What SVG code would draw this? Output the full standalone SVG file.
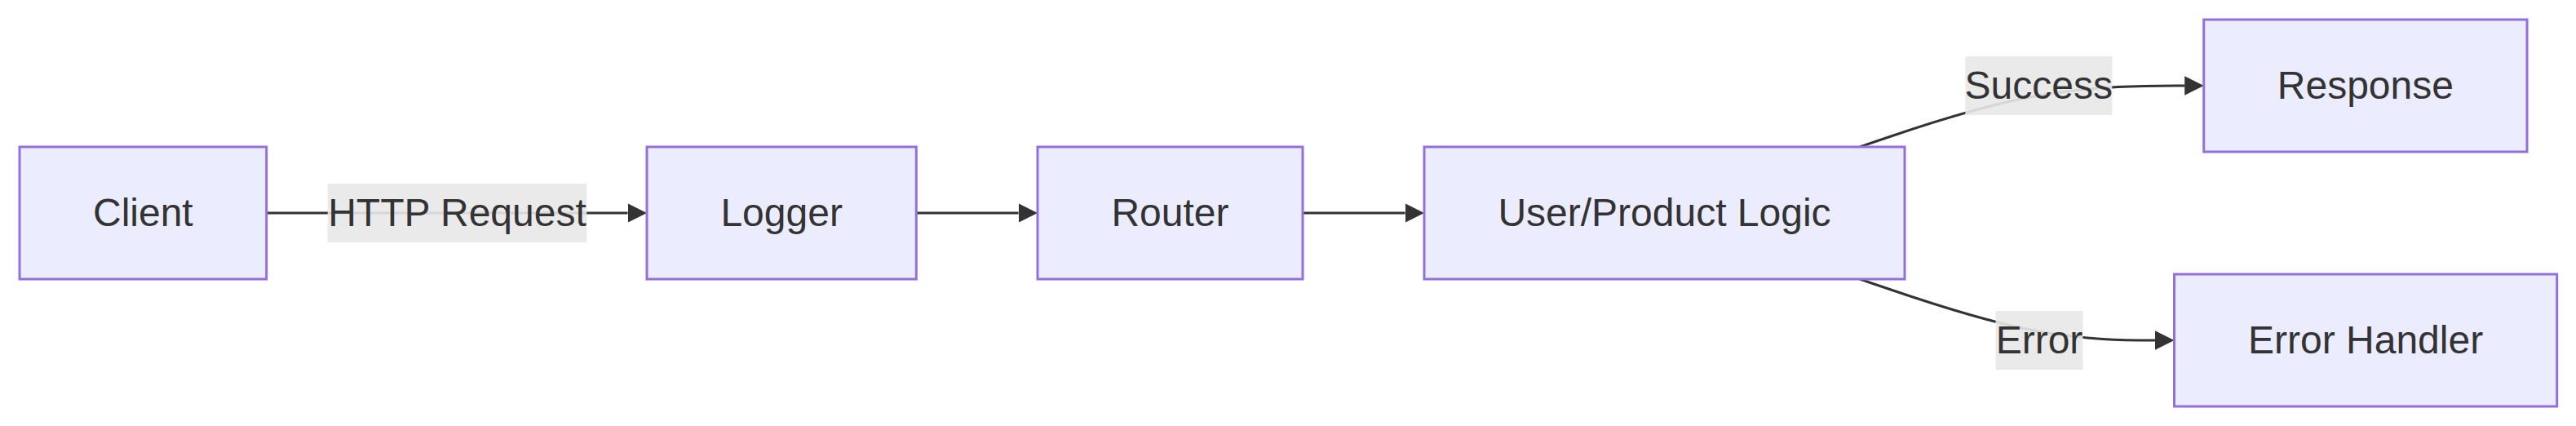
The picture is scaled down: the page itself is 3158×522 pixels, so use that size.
<svg xmlns="http://www.w3.org/2000/svg" width="3158" height="522" viewBox="0 0 3158 522">
  <style>
    .node rect { fill: #ECECFF; stroke: #9370DB; stroke-width: 3; }
    .label { font-family: "Liberation Sans", Arial, sans-serif; font-size: 48px; fill: #333333; text-anchor: middle; }
    .edge { fill: none; stroke: #333333; stroke-width: 3; }
    .lblbg { fill: rgb(232,232,232); fill-opacity: 0.9; }
  </style>
  <defs>
    <marker id="arrow" viewBox="0 0 10 10" refX="0" refY="5" markerUnits="userSpaceOnUse" markerWidth="23.5" markerHeight="23.5" orient="auto">
      <path d="M0,0 L10,5 L0,10 z" fill="#333333"/>
    </marker>
  </defs>
  <rect x="0" y="0" width="3158" height="522" fill="#FFFFFF"/>

  <g id="connectors">
    <path class="edge" d="M326.7,261 L769.5,261" marker-end="url(#arrow)"/>
    <path class="edge" d="M1123.3,261 L1248.5,261" marker-end="url(#arrow)"/>
    <path class="edge" d="M1597,261 L1722.5,261" marker-end="url(#arrow)"/>
    <path class="edge" d="M2280,180 L2316.7,167.5 C2353.3,155 2426.7,130 2497,117.5 C2567.3,105 2634.7,105 2668.3,105 L2678.2,105" marker-end="url(#arrow)"/>
    <path class="edge" d="M2280,342 L2316.7,354.5 C2353.3,367 2426.7,392 2490.9,404.5 C2555.2,417 2610.3,417 2637.9,417 L2642,417" marker-end="url(#arrow)"/>
    <g id="label-http">
      <rect class="lblbg" x="401.7" y="225" width="317.6" height="72"/>
      <text class="label" x="560.5" y="277">HTTP Request</text>
    </g>
    <g id="label-success">
      <rect class="lblbg" x="2409.3" y="69" width="180" height="72"/>
      <text class="label" x="2499.3" y="121">Success</text>
    </g>
    <g id="label-error">
      <rect class="lblbg" x="2446.5" y="381" width="107" height="72"/>
      <text class="label" x="2500" y="433">Error</text>
    </g>
  </g>

  <g id="node-client" class="node">
    <rect x="24" y="180" width="302.7" height="162"/>
    <text class="label" x="175.35" y="277">Client</text>
  </g>
  <g id="node-logger" class="node">
    <rect x="793" y="180" width="330.3" height="162"/>
    <text class="label" x="958.15" y="277">Logger</text>
  </g>
  <g id="node-router" class="node">
    <rect x="1272" y="180" width="325" height="162"/>
    <text class="label" x="1434.5" y="277">Router</text>
  </g>
  <g id="node-logic" class="node">
    <rect x="1746" y="180" width="589" height="162"/>
    <text class="label" x="2040.5" y="277">User/Product Logic</text>
  </g>
  <g id="node-response" class="node">
    <rect x="2701.7" y="24" width="396.3" height="162"/>
    <text class="label" x="2899.85" y="121">Response</text>
  </g>
  <g id="node-error-handler" class="node">
    <rect x="2665.5" y="336" width="469.2" height="162"/>
    <text class="label" x="2900.1" y="433">Error Handler</text>
  </g>
</svg>
